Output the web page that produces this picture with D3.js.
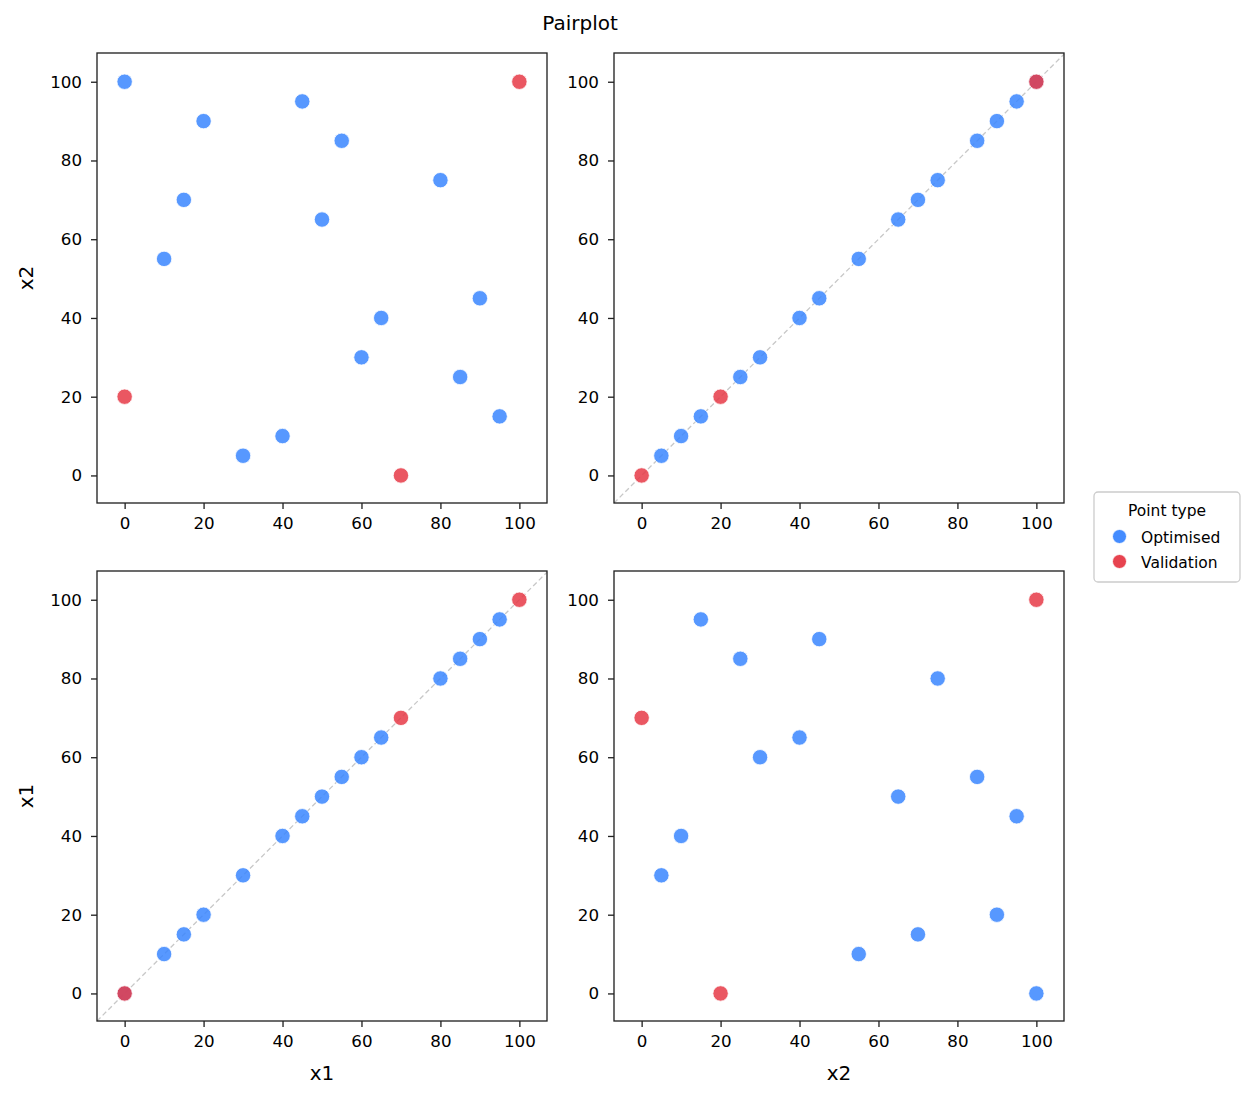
<!DOCTYPE html>
<html>
<head>
<meta charset="utf-8">
<script src="https://cdn.jsdelivr.net/npm/d3@7"></script>
<style>
  body { margin: 0; background: #fff; }
  svg { font-family: "DejaVu Sans", sans-serif; }
</style>
</head>
<body>
<div id="chart"></div>
<script>
// Optimised points (x1, x2)
const optX1 = [0, 20, 15, 10, 45, 55, 50, 80, 65, 60, 90, 85, 95, 30, 40];
const optX2 = [100, 90, 70, 55, 95, 85, 65, 75, 40, 30, 45, 25, 15, 5, 10];
// Validation points (x1, x2)
const valX1 = [0, 100, 70];
const valX2 = [20, 100, 0];

const varNames = ["x1", "x2"];
const tickValues = [0, 20, 40, 60, 80, 100];
const legendLabels = ["Optimised", "Validation"];

const W = 1254, H = 1101;
const colors = { Optimised: "#3a86ff", Validation: "#e63946" };

const svg = d3.select("#chart").append("svg")
    .attr("width", W)
    .attr("height", H);

// title
svg.append("text")
    .attr("x", 580).attr("y", 30)
    .attr("text-anchor", "middle")
    .attr("font-size", 20)
    .text("Pairplot");

const vals = {
    x1: { opt: optX1, val: valX1 },
    x2: { opt: optX2, val: valX2 }
};

// panel layout: rows -> y var, cols -> x var
const rowVars = ["x2", "x1"];
const colVars = ["x1", "x2"];
const lefts = [97, 614];
const tops = [53, 571];
const size = 450;

rowVars.forEach((yv, r) => {
    colVars.forEach((xv, c) => {
        const g = svg.append("g").attr("transform", `translate(${lefts[c]},${tops[r]})`);

        const x = d3.scaleLinear().domain([-7, 107]).range([0, size]);
        const y = d3.scaleLinear().domain([-7, 107.3]).range([size, 0]);

        // diagonal reference line when same var
        if (xv === yv) {
            g.append("line")
                .attr("x1", x(-7)).attr("y1", y(-7))
                .attr("x2", x(107)).attr("y2", y(107))
                .attr("stroke", "#c8c8c8")
                .attr("stroke-width", 1.3)
                .attr("stroke-dasharray", "5,3");
        }

        const optPts = vals[xv].opt.map((d, i) => [d, vals[yv].opt[i]]);
        const valPts = vals[xv].val.map((d, i) => [d, vals[yv].val[i]]);

        g.selectAll("circle.opt")
            .data(optPts)
            .enter()
            .append("circle")
            .attr("class", "opt")
            .attr("cx", d => x(d[0]))
            .attr("cy", d => y(d[1]))
            .attr("r", 7.7)
            .attr("fill", colors.Optimised)
            .attr("fill-opacity", 0.85)
            .attr("stroke", "#fff")
            .attr("stroke-width", 0.8);

        g.selectAll("circle.val")
            .data(valPts)
            .enter()
            .append("circle")
            .attr("class", "val")
            .attr("cx", d => x(d[0]))
            .attr("cy", d => y(d[1]))
            .attr("r", 7.7)
            .attr("fill", colors.Validation)
            .attr("fill-opacity", 0.85)
            .attr("stroke", "#fff")
            .attr("stroke-width", 0.8);

        // axes
        const xAxis = g.append("g")
            .attr("transform", `translate(0,${size})`)
            .call(d3.axisBottom(x).tickValues(tickValues).tickSize(6).tickPadding(8));
        const yAxis = g.append("g")
            .call(d3.axisLeft(y).tickValues(tickValues).tickSize(6).tickPadding(9));

        [xAxis, yAxis].forEach(a => {
            a.select(".domain").remove();
            a.selectAll(".tick line").attr("stroke", "#222").attr("stroke-width", 1.33);
            a.selectAll(".tick text")
                .attr("font-size", 16.7)
                .attr("font-family", "DejaVu Sans")
                .attr("fill", "#000");
        });

        // frame
        g.append("rect")
            .attr("x", 0).attr("y", 0)
            .attr("width", size).attr("height", size)
            .attr("fill", "none")
            .attr("stroke", "#222")
            .attr("stroke-width", 1.33);

        if (r === 1) {
            g.append("text")
                .attr("x", size / 2).attr("y", size + 59)
                .attr("text-anchor", "middle")
                .attr("font-size", 20)
                .text(xv);
        }
        if (c === 0) {
            g.append("text")
                .attr("transform", `translate(-64,${size / 2}) rotate(-90)`)
                .attr("text-anchor", "middle")
                .attr("font-size", 20)
                .text(yv);
        }
    });
});

// legend
const leg = svg.append("g").attr("transform", "translate(1094,492)");
leg.append("rect")
    .attr("width", 146).attr("height", 90)
    .attr("rx", 4)
    .attr("fill", "#fff")
    .attr("stroke", "#cccccc")
    .attr("stroke-width", 1.3);
leg.append("text")
    .attr("x", 73).attr("y", 24)
    .attr("text-anchor", "middle")
    .attr("font-size", 15.5)
    .text("Point type");
legendLabels.forEach((lab, i) => {
    const yy = 44.5 + i * 25;
    leg.append("circle")
        .attr("cx", 25.5).attr("cy", yy)
        .attr("r", 7)
        .attr("fill", colors[lab])
        .attr("fill-opacity", 0.95)
        .attr("stroke", "#fff")
        .attr("stroke-width", 0.8);
    leg.append("text")
        .attr("x", 47).attr("y", yy + 6)
        .attr("font-size", 15.5)
        .text(lab);
});
</script>
</body>
</html>
